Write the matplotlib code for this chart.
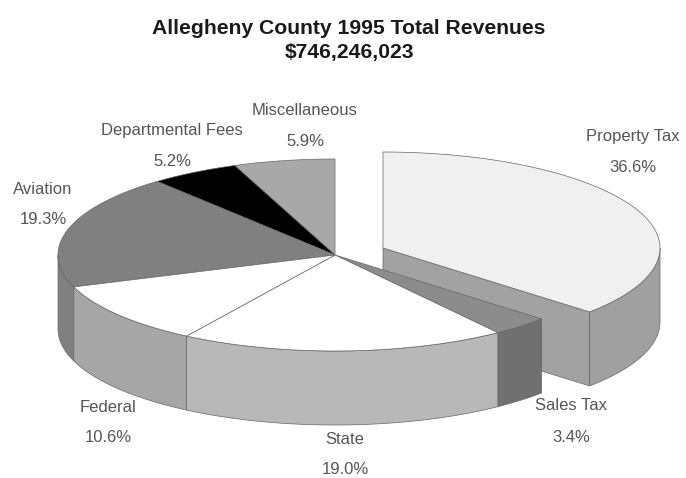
import matplotlib.pyplot as plt
import numpy as np
from matplotlib.patches import Polygon

plt.rcParams["font.family"] = ["Liberation Sans", "DejaVu Sans"]

categories = ["Property Tax", "Sales Tax", "State", "Federal", "Aviation",
              "Departmental Fees", "Miscellaneous"]
shares = [36.6, 3.4, 19.0, 10.6, 19.3, 5.2, 5.9]

title_lines = ["Allegheny County 1995 Total Revenues", "$746,246,023"]

# style per slice: top, outer side
top_colors = ["#f0f0f0", "#8c8c8c", "#ffffff", "#ffffff", "#808080", "#000000", "#a8a8a8"]
side_colors = ["#a0a0a0", "#707070", "#b8b8b8", "#a6a6a6", "#808080", "#000000", "#a8a8a8"]
face_color = "#a2a2a2"
edge = "#666666"

# pixel centres of name and percent text
label_pos = [(633, 136, 168), (571, 406, 438), (345, 440, 469), (108, 407, 438),
             (43, 189, 219), (172, 131, 161), (305, 110, 142)]

# pie projection, in pixels
cx, cy = 335, 255
rx, ry = 277, 96
depth = 74
explode = (48, -7)


def rim(t, ox=0, oy=0):
    # t in degrees, clockwise from 12 o'clock
    t = np.radians(t)
    return np.column_stack([cx + ox + rx * np.sin(t), cy + oy - ry * np.cos(t)])


fig = plt.figure(figsize=(6.86, 4.78), dpi=100)
ax = fig.add_axes([0, 0, 1, 1])
ax.set_xlim(0, 686)
ax.set_ylim(478, 0)
ax.axis("off")

edges = np.concatenate([[0], np.cumsum(shares)]) * 3.6


def draw_slice(i, ox=0, oy=0, cut_face=False):
    t0, t1 = edges[i], edges[i + 1]
    apex = np.array([cx + ox, cy + oy])
    arc = rim(np.linspace(t0, t1, 120), ox, oy)
    if cut_face:
        # exposed cut along the end of the slice
        p = rim(np.array([t1]), ox, oy)[0]
        quad = [apex, p, p + [0, depth], apex + [0, depth]]
        ax.add_patch(Polygon(quad, fc=face_color, ec=edge, lw=0.5))
    # outer wall, only the front half of the rim shows
    a, b = max(t0, 90), min(t1, 270)
    if b > a:
        front = rim(np.linspace(a, b, 80), ox, oy)
        wall = np.vstack([front, (front + [0, depth])[::-1]])
        ax.add_patch(Polygon(wall, fc=side_colors[i], ec=edge, lw=0.5))
    ax.add_patch(Polygon(np.vstack([apex, arc]), fc=top_colors[i], ec=edge, lw=0.5))


draw_slice(0, explode[0], explode[1], cut_face=True)
for i in [6, 5, 4, 1, 2, 3]:
    draw_slice(i)

for name, share, (x, y0, y1) in zip(categories, shares, label_pos):
    ax.text(x, y0, name, ha="center", va="center", fontsize=12, color="#555555")
    ax.text(x, y1, f"{share:.1f}%", ha="center", va="center", fontsize=12, color="#555555")

ax.text(349, 28, title_lines[0], ha="center", va="center", fontsize=15.2,
        fontweight="bold", color="#1a1a1a")
ax.text(349, 52, title_lines[1], ha="center", va="center", fontsize=15.2,
        fontweight="bold", color="#1a1a1a")

fig.savefig("out.png", dpi=100)
